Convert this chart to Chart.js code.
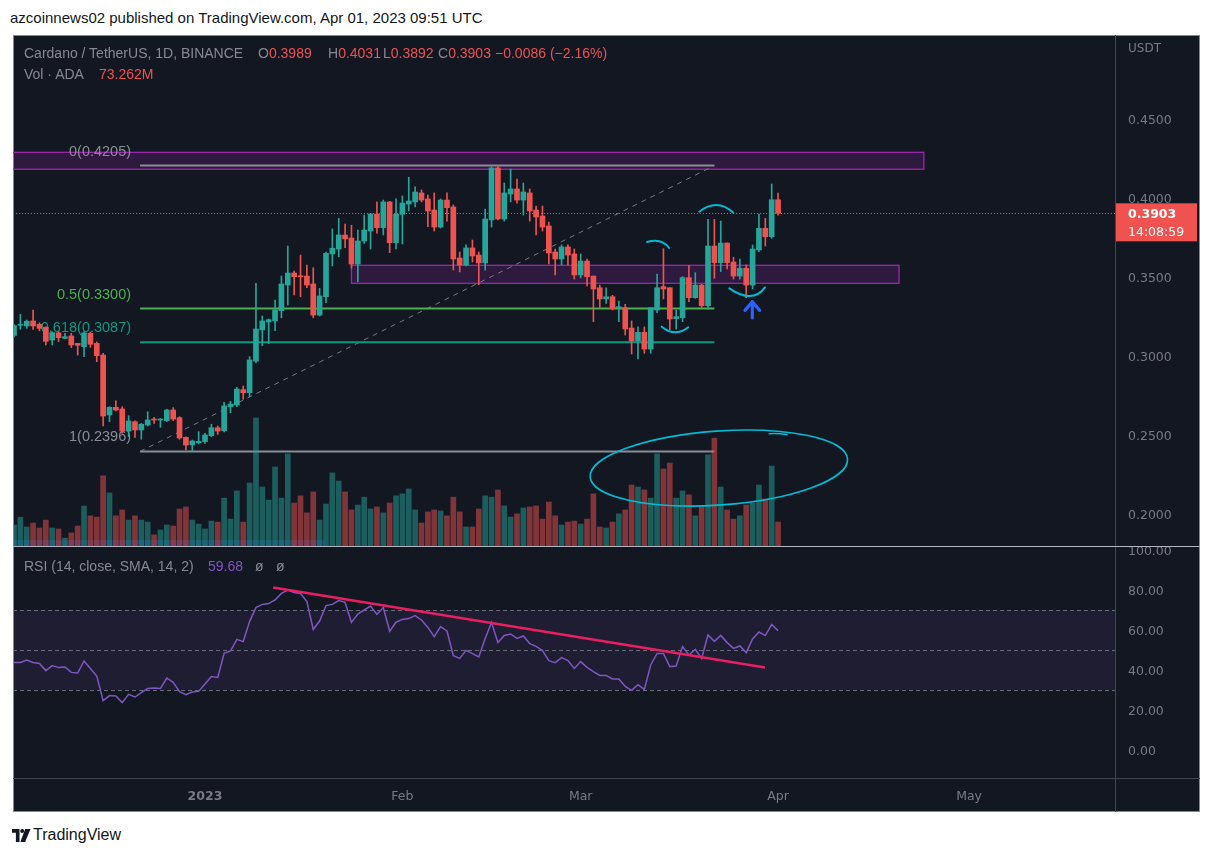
<!DOCTYPE html>
<html><head><meta charset="utf-8">
<script src="https://cdn.jsdelivr.net/npm/chart.js@4.4.0/dist/chart.umd.min.js"></script>
<style>
html,body{margin:0;padding:0;background:#fff;width:1214px;height:857px;overflow:hidden;font-family:"Liberation Sans",Arial,sans-serif}
#frame{position:absolute;left:13px;top:35px;width:1187px;height:777px;background:#131722;border:1px solid #868993;box-sizing:border-box}
canvas{position:absolute}
#cA{left:13px;top:35px}
#cB{left:13px;top:547px}
.ln{position:absolute}
.t{position:absolute;white-space:nowrap;line-height:1}
.g{color:#868993}.r{color:#ef5350}
</style></head><body>
<div class="t" style="left:10px;top:10px;font-size:15px;color:#131722">azcoinnews02 published on TradingView.com, Apr 01, 2023 09:51 UTC</div>
<div id="frame"></div>
<canvas id="cA" width="1187" height="511"></canvas>
<canvas id="cB" width="1187" height="265"></canvas>
<div class="ln" style="left:1115px;top:35px;width:1px;height:777px;background:#434651"></div>
<div class="ln" style="left:13px;top:778px;width:1187px;height:1px;background:#434651"></div>
<div class="ln" style="left:13px;top:546px;width:1187px;height:1px;background:#b2b5be"></div>
<div class="t g" style="left:24px;top:46px;font-size:14px">Cardano / TetherUS, 1D, BINANCE</div>
<div class="t" style="left:258px;top:46px;font-size:14px"><span class="g">O</span><span class="r">0.3989</span></div>
<div class="t" style="left:328px;top:46px;font-size:14px"><span class="g">H</span><span class="r">0.4031</span></div>
<div class="t" style="left:383px;top:46px;font-size:14px"><span class="g">L</span><span class="r">0.3892</span></div>
<div class="t" style="left:438px;top:46px;font-size:14px"><span class="g">C</span><span class="r">0.3903</span></div>
<div class="t r" style="left:495px;top:46px;font-size:14px">−0.0086 (−2.16%)</div>
<div class="t g" style="left:24px;top:67px;font-size:14px">Vol · ADA</div>
<div class="t r" style="left:99px;top:67px;font-size:14px">73.262M</div>
<div class="t g" style="left:24px;top:559px;font-size:14px">RSI (14, close, SMA, 14, 2)</div>
<div class="t" style="left:208px;top:559px;font-size:14px;color:#7e57c2">59.68</div>
<div class="t g" style="left:255px;top:559px;font-size:14px">ø</div>
<div class="t g" style="left:276px;top:559px;font-size:14px">ø</div>
<svg style="position:absolute;left:12px;top:829px" width="20" height="13" viewBox="0 0 20 13"><path d="M0 0h7.5v13h-3.6v-9.2h-3.9z" fill="#131722"/><circle cx="10.2" cy="2" r="2" fill="#131722"/><path d="M13.2 0h5.3l-5.4 13h-4.8z" fill="#131722"/></svg>
<div class="t" style="left:33px;top:827px;font-size:16px;color:#131722">TradingView</div>
<script>
// ---------------- data ----------------
const startDate = '2022-12-02';
const open = [0.3130,0.3195,0.3190,0.3222,0.3200,0.3182,0.3101,0.3146,0.3112,0.3127,
0.3080,0.3059,0.3144,0.3080,0.3006,0.2627,0.2675,0.2665,0.2525,0.2584,
0.2532,0.2563,0.2601,0.2595,0.2591,0.2658,0.2610,0.2485,0.2437,0.2451,
0.2458,0.2496,0.2546,0.2527,0.2679,0.2690,0.2787,0.2768,0.2968,0.3165,
0.3215,0.3222,0.3287,0.3449,0.3525,0.3508,0.3506,0.3456,0.3259,0.3375,
0.3646,0.3677,0.3766,0.3747,0.3582,0.3728,0.3791,0.3899,0.3812,0.3975,
0.3717,0.3897,0.3962,0.3975,0.4032,0.3994,0.3924,0.3816,0.3987,0.3943,
0.3620,0.3576,0.3684,0.3639,0.3589,0.3861,0.4190,0.3867,0.4025,0.4057,
0.3987,0.4032,0.3924,0.3886,0.3823,0.3658,0.3614,0.3690,0.3646,0.3513,
0.3601,0.3506,0.3432,0.3361,0.3375,0.3304,0.3306,0.3177,0.3095,0.3150,
0.3044,0.3291,0.3439,0.3432,0.3236,0.3242,0.3496,0.3369,0.3449,0.3318,
0.3696,0.3591,0.3715,0.3595,0.3506,0.3555,0.3449,0.3671,0.3808,0.3755,
0.3989];
const high = [0.3200,0.3264,0.3228,0.3291,0.3210,0.3185,0.3154,0.3154,0.3144,0.3144,
0.3080,0.3154,0.3152,0.3089,0.3017,0.2679,0.2717,0.2679,0.2622,0.2590,
0.2574,0.2647,0.2612,0.2604,0.2663,0.2673,0.2616,0.2489,0.2468,0.2521,
0.2511,0.2568,0.2557,0.2707,0.2713,0.2802,0.2810,0.2996,0.3460,0.3253,
0.3234,0.3354,0.3506,0.3696,0.3538,0.3639,0.3576,0.3559,0.3428,0.3658,
0.3804,0.3871,0.3835,0.3827,0.3797,0.3892,0.3903,0.3975,0.3987,0.3979,
0.3994,0.4013,0.4131,0.4070,0.4051,0.4019,0.4032,0.3994,0.4032,0.3956,
0.3658,0.3703,0.3734,0.3658,0.3930,0.4198,0.4207,0.4095,0.4184,0.4120,
0.4095,0.4057,0.3949,0.3949,0.3848,0.3677,0.3703,0.3703,0.3677,0.3646,
0.3614,0.3506,0.3449,0.3432,0.3384,0.3348,0.3327,0.3222,0.3185,0.3184,
0.3306,0.3519,0.3679,0.3432,0.3291,0.3502,0.3572,0.3527,0.3454,0.3865,
0.3865,0.3854,0.3715,0.3625,0.3614,0.3576,0.3703,0.3899,0.3871,0.4089,
0.4031];
const low = [0.3120,0.3169,0.3175,0.3169,0.3160,0.3070,0.3070,0.3091,0.3110,0.3053,
0.3006,0.2996,0.3055,0.2964,0.2557,0.2584,0.2652,0.2511,0.2489,0.2484,
0.2473,0.2557,0.2574,0.2549,0.2585,0.2591,0.2473,0.2405,0.2401,0.2443,
0.2447,0.2490,0.2504,0.2520,0.2641,0.2679,0.2726,0.2742,0.2958,0.3065,
0.3078,0.3160,0.3242,0.3323,0.3386,0.3375,0.3432,0.3242,0.3253,0.3337,
0.3570,0.3628,0.3685,0.3555,0.3470,0.3713,0.3677,0.3778,0.3766,0.3654,
0.3677,0.3709,0.3918,0.3943,0.3975,0.3818,0.3791,0.3810,0.3854,0.3544,
0.3532,0.3570,0.3595,0.3451,0.3544,0.3816,0.3861,0.3854,0.3975,0.3968,
0.3892,0.3854,0.3766,0.3791,0.3582,0.3513,0.3576,0.3576,0.3487,0.3494,
0.3443,0.3217,0.3308,0.3333,0.3291,0.3217,0.3133,0.3013,0.2981,0.3017,
0.3017,0.3274,0.3361,0.3165,0.3171,0.3217,0.3344,0.3365,0.3308,0.3296,
0.3492,0.3534,0.3551,0.3487,0.3487,0.3369,0.3424,0.3660,0.3696,0.3745,
0.3892];
const close = [0.3192,0.3200,0.3220,0.3190,0.3175,0.3093,0.3148,0.3116,0.3122,0.3070,
0.3068,0.3146,0.3074,0.3002,0.2620,0.2675,0.2658,0.2525,0.2589,0.2532,
0.2568,0.2595,0.2595,0.2601,0.2658,0.2601,0.2481,0.2437,0.2462,0.2460,
0.2500,0.2546,0.2525,0.2684,0.2696,0.2791,0.2768,0.2975,0.3171,0.3222,
0.3230,0.3291,0.3456,0.3525,0.3502,0.3502,0.3449,0.3259,0.3380,0.3650,
0.3682,0.3766,0.3741,0.3582,0.3728,0.3797,0.3899,0.3812,0.3975,0.3717,
0.3897,0.3968,0.3981,0.4038,0.3987,0.3918,0.3816,0.3987,0.3939,0.3614,
0.3576,0.3684,0.3633,0.3589,0.3867,0.4190,0.3867,0.4032,0.4057,0.3987,
0.4038,0.3918,0.3880,0.3816,0.3652,0.3614,0.3690,0.3639,0.3513,0.3601,
0.3502,0.3424,0.3361,0.3375,0.3300,0.3312,0.3171,0.3095,0.3150,0.3044,
0.3306,0.3432,0.3424,0.3234,0.3249,0.3496,0.3369,0.3449,0.3318,0.3696,
0.3591,0.3715,0.3591,0.3506,0.3555,0.3449,0.3677,0.3808,0.3755,0.3989,
0.3903];
const volumeM = [64,88,58,70,55,79,55,52,24,40,
61,122,92,88,214,162,92,110,79,92,
79,73,34,49,64,61,113,119,79,67,
52,76,73,146,82,168,73,192,390,180,
140,241,146,281,131,153,101,165,79,128,
223,198,165,110,125,149,113,119,101,131,
153,159,174,110,70,104,110,107,92,149,
104,58,58,113,153,149,171,122,88,98,
116,119,122,82,134,92,64,73,76,67,
82,159,58,55,73,98,110,186,180,171,
146,281,235,253,146,168,156,92,122,278,
329,180,110,82,92,125,131,186,143,244,
73.262];
const rsi = [43.7,43.8,45.0,43.8,43.3,39.7,42.2,41.2,41.5,38.8,
38.5,44.5,40.7,37.0,24.7,27.2,27.0,23.7,27.8,26.5,
28.7,30.8,31.0,30.8,36.0,33.8,29.2,27.7,29.0,29.3,
33.0,36.7,36.3,48.3,49.5,55.3,54.2,64.2,71.2,72.8,
73.2,75.0,78.3,80.0,78.7,78.3,74.2,60.3,64.5,72.2,
72.8,74.7,73.8,63.8,68.0,70.0,72.0,67.8,71.2,59.4,
63.9,65.3,65.7,67.2,65.0,61.3,56.7,61.7,59.5,47.2,
45.8,49.8,48.2,46.5,55.8,63.8,53.7,57.3,58.0,55.8,
57.0,53.2,51.8,49.7,44.7,43.7,46.2,44.7,40.8,44.2,
41.3,39.2,37.3,37.3,35.5,35.5,31.8,29.8,32.7,30.3,
42.5,48.3,48.3,41.7,42.0,51.7,47.5,50.3,45.8,57.5,
54.3,57.3,53.7,50.8,52.0,48.7,55.5,59.0,57.2,62.8,
59.68];
const priceTicks = [0.20,0.25,0.30,0.35,0.40,0.45];
const rsiTicks = [0,20,40,60,80,100];
const monthTickDates = ['2023-01-01','2023-02-01','2023-03-01','2023-04-01','2023-05-01'];
const monthTickLabels = ['2023','Feb','Mar','Apr','May'];
const fibRatios = ['0','0.5','0.618','1'];
const fibPrices = [0.4205,0.3300,0.3087,0.2396];
const fibColors = ['#8a8d96','#4caf50','#089981','#8a8d96'];
const fibDays = [19.8,110];
const zoneDays = [[-5,142.9],[53.0,139.0]];
const zonePrices = [[0.4182,0.4289],[0.3460,0.3574]];
const lastPrice = 0.3903;
const rsiTrendDays = [40.7,117.95];
const rsiTrendValues = [81.3,41.2];

// ---------------- helpers ----------------
const DAY = 864e5;
const t0 = Date.parse(startDate + 'T00:00:00Z');
const dayIndex = d => Math.round((Date.parse(d + 'T00:00:00Z') - t0) / DAY);
const dates = open.map((_, i) => new Date(t0 + i * DAY).toISOString().slice(0, 10));
const xs = dates.map(dayIndex);
const monthTickDays = monthTickDates.map(dayIndex);
const UP = '#26a69a', DN = '#ef5350';
const isUp = i => close[i] >= open[i];
const X_MIN = -0.157, X_MAX = 172.92;
const AXIS_FONT = {family: '"DejaVu Sans", sans-serif', size: 12.5};
Chart.defaults.font.family = '"DejaVu Sans", sans-serif';
const fitRight = s => { s.width = 85; s.paddingTop = 0; s.paddingBottom = 0; };

// ---------------- price pane overlays ----------------
const overlayA = {
  id: 'overlayA',
  beforeDatasetsDraw(chart) {
    const {ctx, chartArea: a, scales: {x, y, yv}} = chart;
    const X = v => x.getPixelForValue(v), Y = v => y.getPixelForValue(v);
    ctx.save();
    ctx.beginPath(); ctx.rect(a.left, a.top, a.width, a.height); ctx.clip();
    zoneDays.forEach((d, i) => {
      const x1 = X(d[0]), x2 = X(d[1]), y1 = Y(zonePrices[i][1]), y2 = Y(zonePrices[i][0]);
      ctx.fillStyle = 'rgba(156,39,176,0.2)';
      ctx.fillRect(x1, y1, x2 - x1, y2 - y1);
      ctx.strokeStyle = '#9c27b0'; ctx.lineWidth = 1.3;
      ctx.strokeRect(x1, y1, x2 - x1, y2 - y1);
    });
    ctx.fillStyle = 'rgba(41,98,255,0.22)';
    const vy = yv.getPixelForValue(18), vb = yv.getPixelForValue(0);
    ctx.fillRect(X(-1), vy, X(48.8) - X(-1), vb - vy);
    ctx.setLineDash([5, 5]); ctx.strokeStyle = '#787b86'; ctx.lineWidth = 1;
    ctx.beginPath(); ctx.moveTo(X(fibDays[0]), Y(fibPrices[3])); ctx.lineTo(X(fibDays[1]), Y(fibPrices[0])); ctx.stroke();
    ctx.setLineDash([]);
    ctx.font = '14.5px "Liberation Sans", Arial, sans-serif';
    ctx.textAlign = 'right'; ctx.textBaseline = 'middle';
    fibPrices.forEach((p, i) => {
      ctx.strokeStyle = fibColors[i]; ctx.lineWidth = 2;
      ctx.beginPath(); ctx.moveTo(X(fibDays[0]), Y(p)); ctx.lineTo(X(fibDays[1]), Y(p)); ctx.stroke();
      ctx.fillStyle = fibColors[i];
      ctx.fillText(fibRatios[i] + '(' + p.toFixed(4) + ')', X(fibDays[0]) - 9, Y(p) - 14);
    });
    ctx.restore();
  },
  afterDatasetsDraw(chart) {
    const {ctx, chartArea: a, scales: {x, y}} = chart;
    const X = v => x.getPixelForValue(v), Y = v => y.getPixelForValue(v);
    ctx.save();
    ctx.beginPath(); ctx.rect(a.left, a.top, a.width, a.height); ctx.clip();
    ctx.setLineDash([1, 2]); ctx.strokeStyle = DN; ctx.lineWidth = 1;
    ctx.beginPath(); ctx.moveTo(a.left, Math.round(Y(lastPrice)) + 0.5); ctx.lineTo(a.right, Math.round(Y(lastPrice)) + 0.5); ctx.stroke();
    ctx.setLineDash([]);
    ctx.strokeStyle = '#00bcd4'; ctx.lineWidth = 1.6;
    const cx = X(110.7), cy = Y(0.2291);
    const rx = X(110.7 + 20.26) - cx, ry = Y(0.2291) - Y(0.2291 + 0.0234);
    ctx.beginPath(); ctx.ellipse(cx, cy, rx, ry, -0.07, 0, Math.PI * 2); ctx.stroke();
    ctx.beginPath(); ctx.moveTo(X(118.5), Y(0.2508)); ctx.quadraticCurveTo(X(120), Y(0.2512), X(121.5), Y(0.2502)); ctx.stroke();
    ctx.lineWidth = 2; ctx.lineCap = 'round';
    const arcs = [
      [[99.42,0.37215],[101.78,0.37468],[102.88,0.36835]],
      [[101.73,0.31854],[103.82,0.31165],[105.9,0.31816]],
      [[107.63,0.39133],[110.43,0.40013],[112.97,0.3907]],
      [[112.34,0.34285],[116.05,0.33278],[117.95,0.34348]]
    ];
    arcs.forEach(a3 => {
      ctx.beginPath(); ctx.moveTo(X(a3[0][0]), Y(a3[0][1]));
      ctx.quadraticCurveTo(X(a3[1][0]), Y(a3[1][1]), X(a3[2][0]), Y(a3[2][1])); ctx.stroke();
    });
    ctx.strokeStyle = '#2962ff'; ctx.lineWidth = 3.2; ctx.lineJoin = 'round';
    ctx.beginPath(); ctx.moveTo(X(115.96), Y(0.32405)); ctx.lineTo(X(115.96), Y(0.33437)); ctx.stroke();
    ctx.beginPath(); ctx.moveTo(X(114.81), Y(0.32886)); ctx.lineTo(X(115.96), Y(0.33437)); ctx.lineTo(X(117.11), Y(0.32886)); ctx.stroke();
    ctx.restore();
  },
  afterDraw(chart) {
    const {ctx, chartArea: a, scales: {y}} = chart;
    ctx.save();
    ctx.font = '12px "DejaVu Sans", sans-serif';
    ctx.fillStyle = '#787b86'; ctx.textAlign = 'left'; ctx.textBaseline = 'middle';
    ctx.fillText('USDT', a.right + 13, 14);
    const py = y.getPixelForValue(lastPrice);
    ctx.fillStyle = '#f0534f';
    ctx.fillRect(a.right + 1, py - 10, 81, 38);
    ctx.fillStyle = '#ffffff';
    ctx.font = 'bold 12.5px "DejaVu Sans", sans-serif';
    ctx.fillText(lastPrice.toFixed(4), a.right + 13, py + 1);
    ctx.font = '12.5px "DejaVu Sans", sans-serif';
    ctx.fillText('14:08:59', a.right + 13, py + 19);
    ctx.restore();
  }
};

new Chart(document.getElementById('cA'), {
  type: 'bar',
  data: {
    datasets: [
      {label: 'body', order: 0, yAxisID: 'y', barThickness: 5,
       data: xs.map((d, i) => ({x: d, y: [open[i], close[i]]})),
       backgroundColor: c => isUp(c.dataIndex) ? UP : DN},
      {label: 'wick', order: 1, yAxisID: 'y', barThickness: 1,
       data: xs.map((d, i) => ({x: d, y: [low[i], high[i]]})),
       backgroundColor: c => isUp(c.dataIndex) ? UP : DN},
      {label: 'volume', order: 2, yAxisID: 'yv', barThickness: 5,
       data: xs.map((d, i) => ({x: d, y: volumeM[i]})),
       backgroundColor: c => isUp(c.dataIndex) ? 'rgba(38,166,154,0.5)' : 'rgba(239,83,80,0.5)'}
    ]
  },
  options: {
    responsive: false, animation: false,
    layout: {padding: 0},
    datasets: {bar: {grouped: false, borderWidth: 0, borderSkipped: false}},
    plugins: {legend: {display: false}, tooltip: {enabled: false}},
    scales: {
      x: {type: 'linear', min: X_MIN, max: X_MAX, display: false, offset: false},
      y: {type: 'linear', position: 'right', min: 0.179747, max: 0.503165,
          grid: {display: false, drawTicks: false}, border: {display: false},
          afterBuildTicks: s => { s.ticks = priceTicks.map(v => ({value: v})); },
          ticks: {color: '#787b86', font: AXIS_FONT, padding: 13, labelOffset: 2, callback: v => Number(v).toFixed(4)},
          afterFit: fitRight},
      yv: {type: 'linear', display: false, min: 0, max: 1558.6}
    }
  },
  plugins: [overlayA]
});

// ---------------- RSI pane ----------------
const overlayB = {
  id: 'overlayB',
  beforeDatasetsDraw(chart) {
    const {ctx, chartArea: a, scales: {y}} = chart;
    ctx.save();
    ctx.fillStyle = 'rgba(126,87,194,0.1)';
    ctx.fillRect(a.left, y.getPixelForValue(70), a.width, y.getPixelForValue(30) - y.getPixelForValue(70));
    ctx.setLineDash([4, 3]); ctx.strokeStyle = 'rgba(120,123,134,0.85)'; ctx.lineWidth = 1;
    [70, 50, 30].forEach(v => {
      const py = Math.round(y.getPixelForValue(v)) + 0.5;
      ctx.beginPath(); ctx.moveTo(a.left, py); ctx.lineTo(a.right, py); ctx.stroke();
    });
    ctx.restore();
  },
  afterDatasetsDraw(chart) {
    const {ctx, scales: {x, y}} = chart;
    ctx.save();
    ctx.strokeStyle = '#e91e63'; ctx.lineWidth = 2.5;
    ctx.beginPath();
    ctx.moveTo(x.getPixelForValue(rsiTrendDays[0]), y.getPixelForValue(rsiTrendValues[0]));
    ctx.lineTo(x.getPixelForValue(rsiTrendDays[1]), y.getPixelForValue(rsiTrendValues[1]));
    ctx.stroke();
    ctx.restore();
  }
};

new Chart(document.getElementById('cB'), {
  type: 'line',
  data: {
    datasets: [{label: 'RSI', data: xs.map((d, i) => ({x: d, y: rsi[i]})),
      borderColor: '#7e57c2', borderWidth: 1.5, pointRadius: 0, tension: 0, fill: false}]
  },
  options: {
    responsive: false, animation: false,
    layout: {padding: 0},
    plugins: {legend: {display: false}, tooltip: {enabled: false}},
    scales: {
      x: {type: 'linear', min: X_MIN, max: X_MAX, offset: false,
          grid: {display: false, drawTicks: false}, border: {display: false},
          afterBuildTicks: s => { s.ticks = monthTickDays.map(v => ({value: v})); },
          ticks: {autoSkip: false, maxRotation: 0, padding: 11, color: '#787b86',
                  font: c => ({family: '"DejaVu Sans", sans-serif', size: 12.5,
                               weight: (c.tick && c.tick.value === monthTickDays[0]) ? 'bold' : 'normal'}),
                  callback: v => { const k = monthTickDays.indexOf(v); return k >= 0 ? monthTickLabels[k] : ''; }},
          afterFit: s => { s.height = 34; s.paddingLeft = 0; s.paddingRight = 0; }},
      y: {type: 'linear', position: 'right', min: -14, max: 101.5,
          grid: {display: false, drawTicks: false}, border: {display: false},
          afterBuildTicks: s => { s.ticks = rsiTicks.map(v => ({value: v})); },
          ticks: {color: '#787b86', font: AXIS_FONT, padding: 13, labelOffset: 2, callback: v => Number(v).toFixed(2)},
          afterFit: fitRight}
    }
  },
  plugins: [overlayB]
});
</script>
</body></html>
